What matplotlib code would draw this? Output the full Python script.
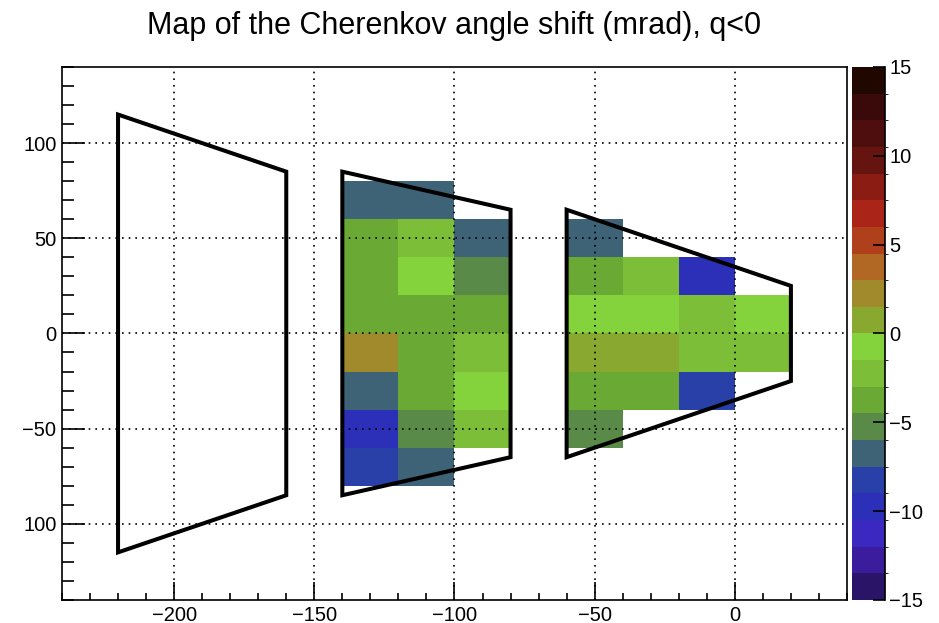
import numpy as np
import matplotlib.pyplot as plt
from matplotlib.colors import ListedColormap, BoundaryNorm
from matplotlib.patches import Polygon
from matplotlib.ticker import MultipleLocator, FixedLocator, FixedFormatter

plt.rcParams['font.family'] = ['Liberation Sans', 'DejaVu Sans']

# bin edges (mm)
x_edges = np.arange(-140, 21, 20)
y_edges = np.arange(-80, 81, 20)

# angle shift per bin (mrad), rows from y=-80 upward, nan = no entries
nan = np.nan
shift = np.array([
    [-8.2, -6.8, nan, nan, nan, nan, nan, nan],
    [-9.8, -5.2, -2.2, nan, -5.2, nan, nan, nan],
    [-6.8, -3.8, -0.8, nan, -3.8, -3.8, -8.2, nan],
    [2.2, -3.8, -2.2, nan, 0.8, 0.8, -2.2, -2.2],
    [-3.8, -3.8, -3.8, nan, -0.8, -0.8, -2.2, -0.8],
    [-3.8, -0.8, -5.2, nan, -3.8, -2.2, -9.8, nan],
    [-3.8, -2.2, -6.8, nan, -6.8, nan, nan, nan],
    [-6.8, -6.8, nan, nan, nan, nan, nan, nan],
])

# detector sector outlines
sectors = [
    [(-220, 115), (-160, 85), (-160, -85), (-220, -115)],
    [(-140, 85), (-80, 65), (-80, -65), (-140, -85)],
    [(-60, 65), (20, 25), (20, -25), (-60, -65)],
]

palette = ['#2a1468', '#3a1c9c', '#3a28c0', '#2c30b8', '#2840a8',
           '#3e6276', '#5a8a48', '#6aaa34', '#7cbe38', '#84d23c',
           '#88a830', '#a08a2c', '#b06824', '#b0401c', '#aa2418',
           '#8a1c14', '#661410', '#4f0e0e', '#3a0a0a', '#200800']
levels = np.linspace(-15, 15, 21)
cmap = ListedColormap(palette)
norm = BoundaryNorm(levels, cmap.N)

fig = plt.figure(figsize=(9.39, 6.23), dpi=100)
ax = fig.add_axes([0.066, 0.037, 0.836, 0.8555])
cax = fig.add_axes([0.9073, 0.037, 0.0351, 0.8555])

mesh = ax.pcolormesh(x_edges, y_edges, np.ma.masked_invalid(shift),
                     cmap=cmap, norm=norm)

for pts in sectors:
    ax.add_patch(Polygon(pts, closed=True, fill=False, ec='black',
                         lw=2.9, joinstyle='miter', zorder=4))

ax.set_xlim(-240, 40)
ax.set_ylim(-140, 140)

ax.xaxis.set_major_locator(MultipleLocator(50))
ax.xaxis.set_minor_locator(MultipleLocator(10))
ax.yaxis.set_major_locator(FixedLocator([-100, -50, 0, 50, 100]))
ax.yaxis.set_major_formatter(FixedFormatter(['100', '\u221250', '0', '50', '100']))
ax.yaxis.set_minor_locator(MultipleLocator(10))

ax.tick_params(axis='both', which='both', direction='in', top=False, right=False,
               labelsize=14.5, width=1.2, color='black')
ax.tick_params(axis='x', which='major', length=12.7, pad=4)
ax.tick_params(axis='x', which='minor', length=5)
ax.tick_params(axis='y', which='major', length=16.5, pad=4)
ax.tick_params(axis='y', which='minor', length=8.6)

ax.grid(True, which='major', color='black', linestyle=(0, (1, 3)), linewidth=1.2)
ax.set_axisbelow(False)
for s in ax.spines.values():
    s.set_linewidth(1.2)

ax.set_title('Map of the Cherenkov angle shift (mrad), q<0', fontsize=22, pad=24)

cb = fig.colorbar(mesh, cax=cax, ticks=np.arange(-15, 16, 5))
cb.outline.set_visible(False)
cax.spines['right'].set_visible(True)
cax.spines['right'].set_linewidth(1.2)
cax.tick_params(direction='in', length=9, width=1.2, labelsize=14.5, pad=3)
cb.ax.set_yticklabels(['\u221215', '\u221210', '\u22125', '0', '5', '10', '15'])

fig.savefig('out.png', dpi=100)
